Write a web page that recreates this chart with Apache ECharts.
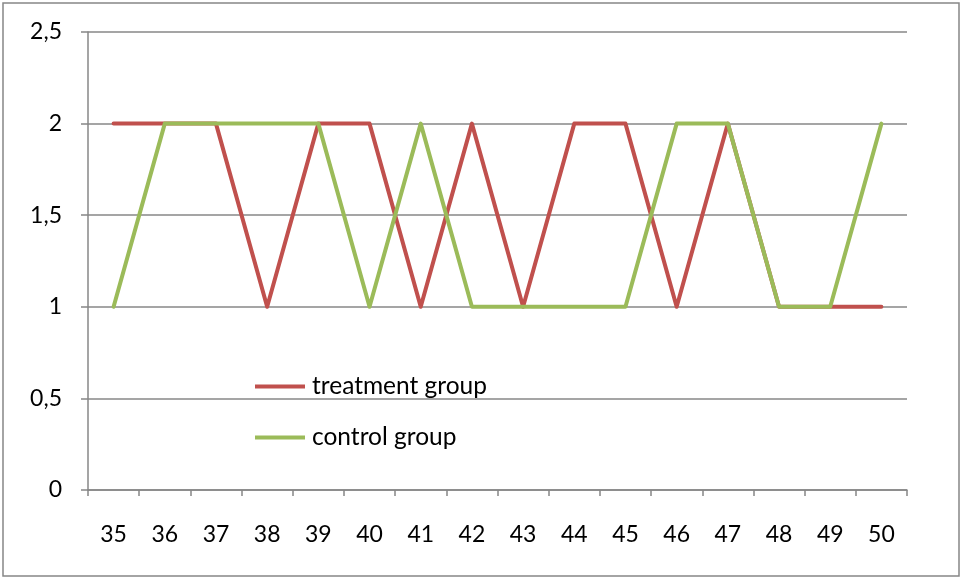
<!DOCTYPE html>
<html><head><meta charset="utf-8">
<script src="https://cdn.jsdelivr.net/npm/echarts@6/dist/echarts.min.js"></script>
<style>html,body{margin:0;padding:0;background:#fff}#c{width:962px;height:579px}</style>
</head><body><div id="c"></div>
<script>
var categories = ['35','36','37','38','39','40','41','42','43','44','45','46','47','48','49','50'];
var treatment = [2,2,2,1,2,2,1,2,1,2,2,1,2,1,1,1];
var control = [1,2,2,2,2,1,2,1,1,1,1,2,2,1,1,2];
var yTicks = [0, 0.5, 1, 1.5, 2, 2.5];

var font = 'Lato, "Open Sans", sans-serif';
var grey = '#878787';
var chart = echarts.init(document.getElementById('c'), null, {renderer: 'canvas'});
chart.setOption({
  animation: false,
  backgroundColor: '#fff',
  graphic: [{type: 'rect', shape: {x: 3, y: 3, width: 956, height: 573}, style: {fill: 'none', stroke: grey, lineWidth: 1.5}, silent: true}],
  grid: {left: 88, right: 55, top: 32, bottom: 89},
  legend: {
    orient: 'vertical', left: 250, top: 369, itemGap: 26,
    icon: 'rect', itemWidth: 50, itemHeight: 4,
    textStyle: {fontFamily: font, fontSize: 24.5, color: '#000', lineHeight: 24, padding: [0,0,0,2]},
    data: ['treatment group', 'control group']
  },
  xAxis: {
    type: 'category', data: categories, boundaryGap: true,
    axisLine: {lineStyle: {color: grey, width: 1.5}},
    axisTick: {show: true, length: 6, lineStyle: {color: grey, width: 1.5}},
    axisLabel: {margin: 33, fontFamily: font, fontSize: 23, color: '#000'},
    splitLine: {show: false}
  },
  yAxis: {
    type: 'value', min: yTicks[0], max: yTicks[yTicks.length-1], interval: 0.5,
    axisLine: {show: true, lineStyle: {color: grey, width: 1.5}},
    axisTick: {show: true, length: 7, lineStyle: {color: grey, width: 1.5}},
    axisLabel: {margin: 26, fontFamily: font, fontSize: 23, color: '#000',
      formatter: function (v) { return String(v).replace('.', ','); }},
    splitLine: {lineStyle: {color: grey, width: 1.5}}
  },
  series: [
    {name: 'treatment group', type: 'line', data: treatment, symbol: 'none',
     itemStyle: {color: '#C0504D'}, lineStyle: {color: '#C0504D', width: 4, cap: 'round', join: 'round'}},
    {name: 'control group', type: 'line', data: control, symbol: 'none',
     itemStyle: {color: '#9BBB59'}, lineStyle: {color: '#9BBB59', width: 4, cap: 'round', join: 'round'}}
  ]
});
</script></body></html>
